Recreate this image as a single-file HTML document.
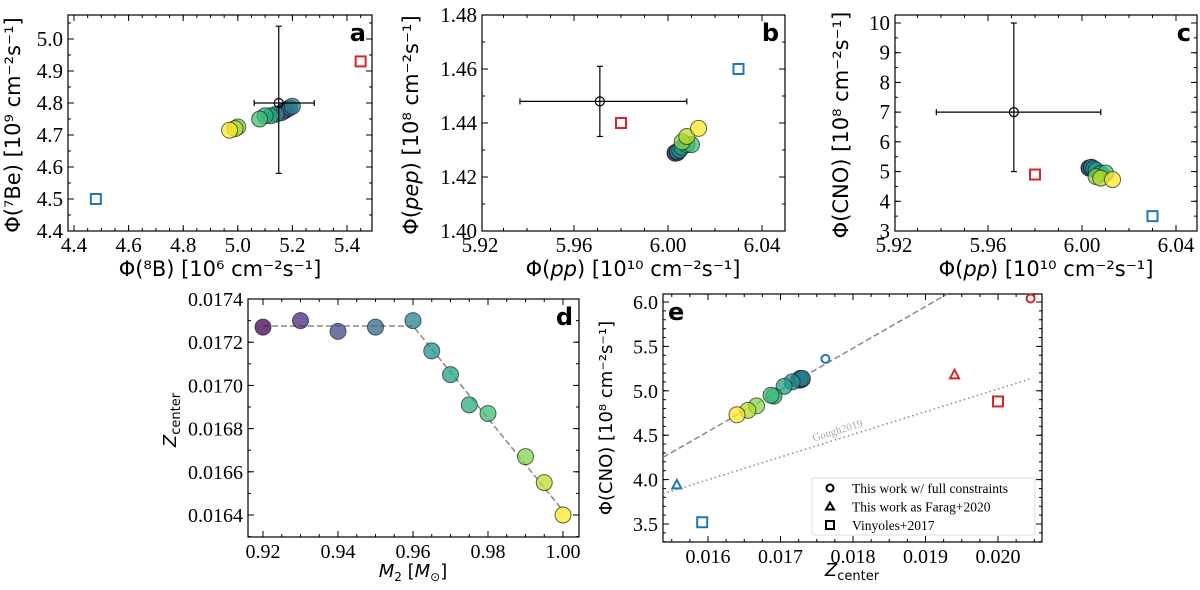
<!DOCTYPE html>
<html><head><meta charset="utf-8"><style>
body{margin:0;background:#fff;width:1200px;height:585px;overflow:hidden}
svg text{font-family:"Liberation Serif","DejaVu Serif",serif}
svg text.lab{font-family:"DejaVu Sans","Liberation Sans",sans-serif}
</style></head><body>
<svg id="fig" width="1200" height="585" xmlns="http://www.w3.org/2000/svg"></svg>
<script>
// ---- data ----
const masses = [0.92,0.93,0.94,0.95,0.96,0.965,0.97,0.975,0.98,0.99,0.995,1.00];
const zCenter = [0.01727,0.01730,0.01725,0.01727,0.01730,0.01716,0.01705,0.01691,0.01687,0.01667,0.01655,0.01640];
const phiB8 = [5.17,5.18,5.16,5.19,5.20,5.14,5.12,5.10,5.08,5.00,4.99,4.97];
const phiBe7 = [4.775,4.78,4.77,4.785,4.79,4.765,4.76,4.76,4.75,4.725,4.72,4.715];
const phiPP = [6.003,6.004,6.003,6.004,6.004,6.005,6.006,6.008,6.010,6.006,6.008,6.013];
const phiPEP = [1.4290,1.4290,1.4288,1.4292,1.4295,1.4300,1.4310,1.4320,1.4320,1.4330,1.4350,1.4380];
const phiCNO = [5.12,5.13,5.12,5.14,5.14,5.10,5.05,4.94,4.95,4.83,4.78,4.73];
const viridis = ['#440154','#482878','#3e4989','#31688e','#26828e','#21918c','#1fa088','#28ae80','#3fbc73','#84d44b','#b5de2b','#fde725'];
// observations [x, y, xlo, xhi, ylo, yhi]
const obsA = [5.15,4.80,5.06,5.28,4.58,5.04];
const obsB = [5.971,1.448,5.937,6.008,1.435,1.461];
const obsC = [5.971,7.0,5.938,6.008,5.0,10.0];
const vinyA = [[5.45,4.93],[4.48,4.50]];
const vinyB = [[5.98,1.440],[6.03,1.460]];
const vinyC = [[5.98,4.9],[6.03,3.5]];
const eFull = [[0.02045,6.04],[0.01762,5.36]];
const eFarag = [[0.01940,5.18],[0.01557,3.94]];
const eViny = [[0.0200,4.88],[0.01592,3.52]];
const fitD = [[0.92,0.017275],[0.96,0.017275],[1.00,0.01642]];
const fitE = [[0.01538,4.25],[0.01930,6.09]];
const gough = [[0.01538,3.84],[0.02047,5.14]];
const RED='#d62728', BLUE='#1f77b4';

const NS='http://www.w3.org/2000/svg', svg=document.getElementById('fig');
function mk(tag, attrs, parent){const e=document.createElementNS(NS,tag);for(const k in attrs)e.setAttribute(k,attrs[k]);(parent||svg).appendChild(e);return e;}
function lin(d0,d1,p0,p1){return v=>p0+(v-d0)*(p1-p0)/(d1-d0);}

function panel(o){
  const g=mk('g',{});
  
  
  const X=lin(o.xd[0],o.xd[1],o.px[0],o.px[1]), Y=lin(o.yd[0],o.yd[1],o.py[0],o.py[1]);
  const L=o.box[0],R=o.box[1],T=o.box[2],B=o.box[3];
  const ax=mk('g',{stroke:'#000','stroke-width':1},g);
  
  
  const eps=1e-9;
  function ticks(min,max,step,isX,len){
    const start=Math.ceil((min-eps)/step)*step;
    for(let v=start;v<=max+eps;v+=step){
      if(isX){const x=X(v);if(x<L-0.5||x>R+0.5)continue;mk('line',{x1:x,x2:x,y1:B,y2:B-len},ax);mk('line',{x1:x,x2:x,y1:T,y2:T+len},ax);}
      else{const y=Y(v);if(y<T-0.5||y>B+0.5)continue;mk('line',{x1:L,x2:L+len,y1:y,y2:y},ax);mk('line',{x1:R,x2:R-len,y1:y,y2:y},ax);}
    }
  }
  const xv=[L,R].map(p=>o.xd[0]+(p-o.px[0])*(o.xd[1]-o.xd[0])/(o.px[1]-o.px[0]));
  const yv=[T,B].map(p=>o.yd[0]+(p-o.py[0])*(o.yd[1]-o.yd[0])/(o.py[1]-o.py[0]));
  const xmin=Math.min(...xv),xmax=Math.max(...xv),ymin=Math.min(...yv),ymax=Math.max(...yv);
  ticks(xmin,xmax,o.xmaj,true,6);ticks(xmin,xmax,o.xmin,true,3);
  ticks(ymin,ymax,o.ymaj,false,6);ticks(ymin,ymax,o.ymin,false,3);
  o.xt.forEach(v=>{const t=mk('text',{x:X(v),y:B+21,'text-anchor':'middle','font-size':o.fs||21},g);t.textContent=v.toFixed(o.xdec);
    });
  o.yt.forEach(v=>{const t=mk('text',{x:L-5,y:Y(v)+7,'text-anchor':'end','font-size':o.fs||21},g);t.textContent=v.toFixed(o.ydec);
    });
  const fr=mk('rect',{x:L,y:T,width:R-L,height:B-T,fill:'none',stroke:'#000','stroke-width':1.2},g);
  
  const pl=mk('text',{x:R-6,y:T+26,'text-anchor':'end','font-size':24,'font-weight':'bold',class:'lab'},g);
  pl.textContent=o.letter;
  if(o.letterLeft){pl.setAttribute('x',L+5);pl.setAttribute('text-anchor','start');}
  return {g,X,Y};
}
function label(txt,x,y,rot,size,name,parent){
  const t=mk('text',{x:x,y:y,'text-anchor':'middle','font-size':size,class:'lab',transform:rot?`rotate(-90 ${x} ${y})`:''},parent);
  t.innerHTML=txt;return t;
}
function dots(p,xs,ys,name,r){
  xs.forEach((v,i)=>{const c=mk('circle',{cx:p.X(v),cy:p.Y(ys[i]),r:r||8,fill:viridis[i],'fill-opacity':0.75,stroke:'#222','stroke-opacity':0.7,'stroke-width':1},p.g);
    });
}
function square(p,pt,col){const s=mk('rect',{x:p.X(pt[0])-5,y:p.Y(pt[1])-5,width:10,height:10,fill:'none',stroke:col,'stroke-width':2},p.g);
  }
function obs(p,o){
  const g=mk('g',{stroke:'#000','stroke-width':1.2,fill:'none'},p.g);
  
  const x=p.X(o[0]),y=p.Y(o[1]),x0=p.X(o[2]),x1=p.X(o[3]),y0=p.Y(o[4]),y1=p.Y(o[5]);
  mk('line',{x1:x0,x2:x1,y1:y,y2:y},g);mk('line',{x1:x,x2:x,y1:y0,y2:y1},g);
  [x0,x1].forEach(xx=>mk('line',{x1:xx,x2:xx,y1:y-3,y2:y+3},g));
  [y0,y1].forEach(yy=>mk('line',{x1:x-3,x2:x+3,y1:yy,y2:yy},g));
  mk('circle',{cx:x,cy:y,r:4.5,fill:'none'},g);
}

// panel a
const pa=panel({name:'panel-a',letter:'a',box:[68,372,15,231],xd:[4.4,5.4],px:[74,347],yd:[4.4,5.0],py:[231,39],
 xmaj:0.2,xmin:0.05,ymaj:0.1,ymin:0.05,xt:[4.4,4.6,4.8,5.0,5.2,5.4],yt:[4.4,4.5,4.6,4.7,4.8,4.9,5.0],xdec:1,ydec:1});
dots(pa,phiB8,phiBe7,'model-point');obs(pa,obsA);vinyA.forEach((p,i)=>square(pa,p,i?BLUE:RED));
label('Φ(⁸B) [10⁶ cm⁻²s⁻¹]',220,276,false,21,'x-axis-title');
label('Φ(⁷Be) [10⁹ cm⁻²s⁻¹]',20,125,true,21,'y-axis-title');

// panel b
const pb=panel({name:'panel-b',letter:'b',box:[482,785,15,231],xd:[5.92,6.04],px:[480,762],yd:[1.40,1.48],py:[231,15],
 xmaj:0.04,xmin:0.01,ymaj:0.02,ymin:0.01,xt:[5.92,5.96,6.00,6.04],yt:[1.40,1.42,1.44,1.46,1.48],xdec:2,ydec:2});
dots(pb,phiPP,phiPEP,'model-point');obs(pb,obsB);vinyB.forEach((p,i)=>square(pb,p,i?BLUE:RED));
label('Φ(<tspan font-style="italic">pp</tspan>) [10¹⁰ cm⁻²s⁻¹]',633,276,false,21,'x-axis-title');
label('Φ(<tspan font-style="italic">pep</tspan>) [10⁸ cm⁻²s⁻¹]',418,125,true,21,'y-axis-title');

// panel c
const pc=panel({name:'panel-c',letter:'c',box:[895,1197,15,231],xd:[5.92,6.04],px:[894,1176],yd:[3,10],py:[231,23],
 xmaj:0.04,xmin:0.01,ymaj:1,ymin:0.5,xt:[5.92,5.96,6.00,6.04],yt:[3,4,5,6,7,8,9,10],xdec:2,ydec:0});
dots(pc,phiPP,phiCNO,'model-point');obs(pc,obsC);vinyC.forEach((p,i)=>square(pc,p,i?BLUE:RED));
label('Φ(<tspan font-style="italic">pp</tspan>) [10¹⁰ cm⁻²s⁻¹]',1046,276,false,21,'x-axis-title');
label('Φ(CNO) [10⁸ cm⁻²s⁻¹]',848,125,true,21,'y-axis-title');

// panel d
const pd=panel({name:'panel-d',letter:'d',box:[248,579,299,537],xd:[0.92,1.00],px:[263,563],yd:[0.0164,0.0174],py:[515,299],
 xmaj:0.02,xmin:0.005,ymaj:0.0002,ymin:0.0001,xt:[0.92,0.94,0.96,0.98,1.00],yt:[0.0164,0.0166,0.0168,0.0170,0.0172,0.0174],xdec:2,ydec:4,fs:20});
const fd=mk('polyline',{points:fitD.map(p=>pd.X(p[0])+','+pd.Y(p[1])).join(' '),fill:'none',stroke:'#888','stroke-width':1.5,'stroke-dasharray':'6,3'},pd.g);

dots(pd,masses,zCenter,'model-point');
label('<tspan font-style="italic">M</tspan><tspan dy="4" font-size="12">2</tspan><tspan dy="-4"> [</tspan><tspan font-style="italic">M</tspan><tspan dy="4" font-size="12">⊙</tspan><tspan dy="-4">]</tspan>',413,577,false,18,'x-axis-title');
label('<tspan font-style="italic">Z</tspan><tspan dy="4" font-size="13">center</tspan>',176,420,true,18,'y-axis-title');

// panel e
const pe=panel({name:'panel-e',letter:'e',letterLeft:true,box:[663,1042,294,542],xd:[0.016,0.020],px:[708,998],yd:[3.5,6.0],py:[524,302],
 xmaj:0.001,xmin:0.00025,ymaj:0.5,ymin:0.1,xt:[0.016,0.017,0.018,0.019,0.020],yt:[3.5,4.0,4.5,5.0,5.5,6.0],xdec:3,ydec:1,fs:20});
const fe=mk('line',{x1:pe.X(fitE[0][0]),y1:pe.Y(fitE[0][1]),x2:pe.X(fitE[1][0]),y2:pe.Y(fitE[1][1]),stroke:'#888','stroke-width':1.5,'stroke-dasharray':'6,3'},pe.g);

const gl=mk('line',{x1:pe.X(gough[0][0]),y1:pe.Y(gough[0][1]),x2:pe.X(gough[1][0]),y2:pe.Y(gough[1][1]),stroke:'#888','stroke-width':1.5,'stroke-dasharray':'1.5,3'},pe.g);

const ang=Math.atan2(pe.Y(gough[1][1])-pe.Y(gough[0][1]),pe.X(gough[1][0])-pe.X(gough[0][0]))*180/Math.PI;
const gx=pe.X(0.0178),gy=pe.Y(gough[0][1]+(0.0178-gough[0][0])*(gough[1][1]-gough[0][1])/(gough[1][0]-gough[0][0]))-5;
const gt=mk('text',{x:gx,y:gy,'font-size':11,fill:'#aaa','text-anchor':'middle',transform:`rotate(${ang} ${gx} ${gy})`},pe.g);
gt.textContent='Gough2019';
dots(pe,zCenter,phiCNO,'model-point');
eFull.forEach((p,i)=>{const c=mk('circle',{cx:pe.X(p[0]),cy:pe.Y(p[1]),r:4,fill:'none',stroke:i?BLUE:RED,'stroke-width':2},pe.g);
  });
eFarag.forEach((p,i)=>{const x=pe.X(p[0]),y=pe.Y(p[1]);const t=mk('polygon',{points:`${x},${y-5} ${x-4.5},${y+3.5} ${x+4.5},${y+3.5}`,fill:'none',stroke:i?BLUE:RED,'stroke-width':2},pe.g);
  });
eViny.forEach((p,i)=>square(pe,p,i?BLUE:RED));
// legend
const lg=mk('g',{},pe.g);
mk('rect',{x:812,y:478,width:223,height:57,fill:'#fff',stroke:'#ddd',rx:2},lg);
const legTxt=['This work w/ full constraints','This work as Farag+2020','Vinyoles+2017'];
legTxt.forEach((s,i)=>{const y=488+i*18.5;
  if(i==0)mk('circle',{cx:830,cy:y,r:3.5,fill:'none',stroke:'#000','stroke-width':2},lg);
  if(i==1)mk('polygon',{points:`830,${y-4} 826,${y+3} 834,${y+3}`,fill:'none',stroke:'#000','stroke-width':2},lg);
  if(i==2)mk('rect',{x:826,y:y-4,width:8,height:8,fill:'none',stroke:'#000','stroke-width':2},lg);
  const t=mk('text',{x:852,y:y+5,'font-size':13.5},lg);t.textContent=s;
  });
label('<tspan font-style="italic">Z</tspan><tspan dy="4" font-size="13">center</tspan>',852,576,false,18,'x-axis-title');
label('Φ(CNO) [10⁸ cm⁻²s⁻¹]',612,418,true,18,'y-axis-title');
</script>
</body></html>
